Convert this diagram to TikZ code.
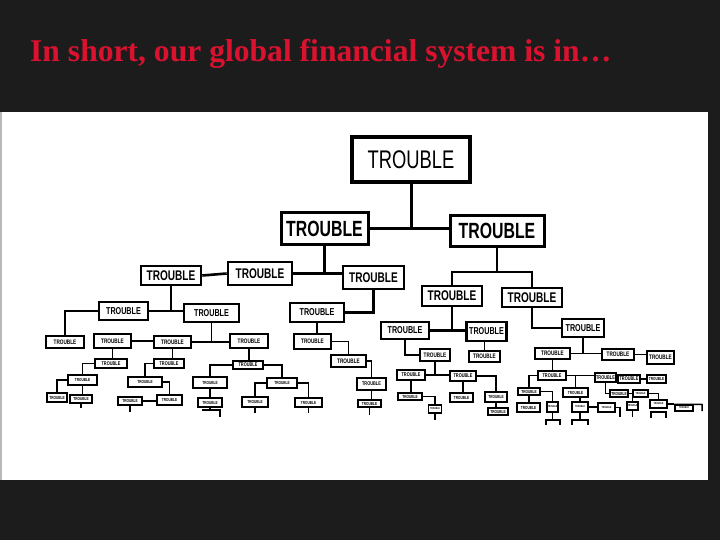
\documentclass[tikz,border=0pt]{standalone}
\usepackage{fontspec}
\setmainfont{Liberation Serif}
\setsansfont{Liberation Sans}
\usepackage{graphicx}
\usepackage{tikz}
\definecolor{slidebg}{RGB}{28,28,28}
\definecolor{titlered}{RGB}{218,18,48}
\newcommand{\tb}{\scalebox{0.72}[1]{TROUBLE}}
\newcommand{\boxfont}[1]{\fontsize{#1}{#1}\selectfont\sffamily\bfseries}

\begin{document}
\begin{tikzpicture}[x=1pt,y=-1pt]
  \tikzset{
    trbox/.style={draw=black,fill=white,inner sep=0pt},
    sz/.style 2 args={minimum width=#1pt,minimum height=#2pt},
    t0/.style={trbox,line width=3.4pt,font=\fontsize{25.5}{25.5}\selectfont\sffamily},
    t1/.style={trbox,line width=3pt,font=\boxfont{22}},
    t2/.style={trbox,line width=2.6pt,font=\boxfont{14}},
    t3/.style={trbox,line width=2.3pt,font=\boxfont{10}},
    t4/.style={trbox,line width=2pt,font=\boxfont{6.5}},
    t5/.style={trbox,line width=1.8pt,font=\boxfont{5.4}},
    t6/.style={trbox,line width=1.6pt,font=\boxfont{4.4}},
    t7/.style={trbox,line width=1.4pt,font=\boxfont{2.8}},
    lk/.style={line width=3pt},
    lm/.style={line width=2.6pt},
    ls/.style={line width=2.1pt},
    lt/.style={line width=1.9pt},
    lx/.style={line width=1.7pt},
    lz/.style={line width=1.5pt}
  }
  \fill[slidebg] (0,0) rectangle (720,540);
  \fill[white] (0,112) rectangle (708,480);
  \draw[gray!55,line width=2pt] (1,112) -- (1,480);
  \node[anchor=base west,inner sep=0pt,text=titlered,font=\fontsize{31.6}{34}\selectfont\bfseries]
    (title) at (30,62) {In short, our global financial system is in…};

  \node[t0,sz={118}{45}] (R) at (411,159.5) {\tb};
  \node[t1,sz={87}{31}] (A) at (324.5,228.5) {\tb};
  \node[t1,sz={94}{30}] (B) at (497,231) {\tb};

  \node[t2,sz={60}{19}] (A1) at (171,275.5) {\tb};
  \node[t2,sz={64}{23}] (A2) at (260,273.5) {\tb};
  \node[t2,sz={61}{23}] (A3) at (373.5,277.5) {\tb};
  \node[t2,sz={60}{20}] (B1) at (452,296) {\tb};
  \node[t2,sz={60}{19}] (B2) at (532,297.5) {\tb};

  \node[t3,sz={49}{18}] (A1a) at (123.5,311) {\tb};
  \node[t3,sz={55}{18}] (A1b) at (211.5,313) {\tb};
  \node[t3,sz={54}{19}] (A3a) at (317,312.5) {\tb};
  \node[t3,sz={48}{17}] (C1) at (405,330.5) {\tb};
  \node[t3,sz={40}{19}] (C2) at (486.5,331.5) {\tb};
  \node[t3,sz={42}{18}] (D) at (583,328) {\tb};

  \node[t4,sz={38}{12}] (E1) at (65,342) {\tb};
  \node[t4,sz={37}{14}] (E2) at (112.5,341) {\tb};
  \node[t4,sz={37}{12}] (E3) at (172.5,342) {\tb};
  \node[t4,sz={38}{14}] (E4) at (249,341) {\tb};
  \node[t4,sz={37}{15}] (E5) at (312.5,341.5) {\tb};
  \node[t4,sz={35}{12}] (E6) at (348.5,361) {\tb};
  \node[t4,sz={30}{12}] (F1) at (435,355) {\tb};
  \node[t4,sz={31}{11}] (F2) at (484.5,356.5) {\tb};
  \node[t4,sz={35}{11}] (G1) at (552.5,353.5) {\tb};
  \node[t4,sz={32}{11}] (G2) at (618,354.5) {\tb};
  \node[t4,sz={27}{13}] (G3) at (660.5,357.5) {\tb};

  \node[t5,sz={32}{9}] (H1) at (111,363.5) {\tb};
  \node[t5,sz={30}{9}] (H2) at (169,363.5) {\tb};
  \node[t5,sz={30}{8}] (H3) at (248,365) {\tb};
  \node[t5,sz={29}{12}] (H4) at (371.5,384) {\tb};
  \node[t5,sz={28}{10}] (H5) at (411,375) {\tb};
  \node[t5,sz={26}{10}] (H6) at (463,376) {\tb};
  \node[t5,sz={28}{9}] (J1) at (552,375.5) {\tb};
  \node[t5,sz={21}{9}] (K1) at (605.5,377.5) {\tb};
  \node[t5,sz={22}{8}] (K2) at (629,379) {\tb};
  \node[t6,sz={19}{8}] (K3) at (656.5,379) {\tb};

  \node[t6,sz={29}{10}] (P1) at (82.5,380) {\tb};
  \node[t6,sz={20}{9}] (P2) at (57,397.5) {\tb};
  \node[t6,sz={22}{8}] (P3) at (81,399) {\tb};
  \node[t6,sz={34}{10}] (P4) at (145,382) {\tb};
  \node[t6,sz={25}{10}] (P5) at (169.5,400) {\tb};
  \node[t6,sz={24}{8}] (P6) at (130,401) {\tb};
  \node[t6,sz={34}{11}] (P7) at (210,382.5) {\tb};
  \node[t6,sz={30}{10}] (P8) at (282,383) {\tb};
  \node[t6,sz={24}{9}] (P9) at (210,402.5) {\tb};
  \node[t6,sz={26}{10}] (P10) at (255,402) {\tb};
  \node[t6,sz={27}{9}] (P11) at (308.5,402.5) {\tb};
  \node[t6,sz={23}{7}] (P12) at (369.5,403.5) {\tb};
  \node[t6,sz={24}{7}] (Q1) at (410,396.5) {\tb};
  \node[t7,sz={13}{8}] (Q2) at (435,409) {\tb};
  \node[t6,sz={23}{9}] (Q3) at (461.5,397.5) {\tb};
  \node[t6,sz={22}{10}] (Q4) at (496,397) {\tb};
  \node[t6,sz={20}{7}] (Q5) at (498,411.5) {\tb};
  \node[t6,sz={22}{7}] (J2) at (529,391.5) {\tb};
  \node[t6,sz={25}{9}] (J3) at (575.5,392.5) {\tb};
  \node[t6,sz={18}{7}] (K4) at (619,393.5) {\tb};
  \node[t7,sz={15}{7}] (K5) at (640.5,393.5) {\tb};
  \node[t7,sz={17}{8}] (K6) at (658.5,404) {\tb};
  \node[t6,sz={23}{9}] (J4) at (528.5,407.5) {\tb};
  \node[t7,sz={11}{10}] (J5) at (552.5,407) {\tb};
  \node[t7,sz={16}{10}] (J6) at (580,407) {\tb};
  \node[t7,sz={17}{9}] (J7) at (606.5,407.5) {\tb};
  \node[t7,sz={11}{8}] (K7) at (632.5,406) {\tb};
  \node[t7,sz={18}{6}] (K8) at (684,408) {\tb};

  \coordinate (bbar) at (497,272);
  \coordinate (p3t) at (81,408);
  \coordinate (p6t) at (130,412);
  \coordinate (p9b) at (210,410);
  \coordinate (p9l) at (202,410);
  \coordinate (p9r) at (220,410);
  \coordinate (p9t) at (220,417);
  \coordinate (p10t) at (255,413);
  \coordinate (p11t) at (308.5,413);
  \coordinate (p12t) at (369.5,415);
  \coordinate (q2t) at (435,420);
  \coordinate (j5b) at (552.5,420);
  \coordinate (j5l) at (546,420);
  \coordinate (j5r) at (560,420);
  \coordinate (j5lt) at (546,425);
  \coordinate (j5rt) at (560,425);
  \coordinate (j6b) at (580,420);
  \coordinate (j6l) at (572,420);
  \coordinate (j6r) at (588,420);
  \coordinate (j6lt) at (572,425);
  \coordinate (j6rt) at (588,425);
  \coordinate (j7c) at (620,407.5);
  \coordinate (j7t) at (620,417);
  \coordinate (k7t) at (632.5,417);
  \coordinate (k6l) at (651,412);
  \coordinate (k6r) at (666,412);
  \coordinate (k6lt) at (651,418);
  \coordinate (k6rt) at (666,418);
  \coordinate (k8r) at (702,404.5);
  \coordinate (k8rt) at (702,411);

  \draw[lk] (A.east) -- (A.east -| B.west);
  \draw[lk] (R.south) -- (R.south |- A.east);
  \draw[lm] (B.south) -- (bbar);
  \draw[lm] (B1.north) |- (bbar) -| (B2.north);
  \draw[lm] (A1.east) -- (A2.west);
  \draw[lm] (A2.east) -- (A2.east -| A3.west);
  \draw[lm] (A.south) -- (A.south |- A2.east);

  \draw[ls] (A1a.east) -- (A1a.east -| A1b.west);
  \draw[ls] (A1.south) -- (A1.south |- A1a.east);
  \draw[ls] (A3.south) |- (A3a.east);
  \draw[ls] (C1.east) -- (C1.east -| C2.west);
  \draw[ls] (B1.south) -- (B1.south |- C1.east);
  \draw[ls] (B2.south) |- (D.west);

  \draw[lt] (A1a.west) -| (E1.north);
  \draw[lt] (E2.east) -- (E2.east -| E3.west);
  \draw[lt] (E3.east) -- (E3.east -| E4.west);
  \draw[lt] (A1b.south) -- (A1b.south |- E3.east);
  \draw[lt] (A3a.south) -- (A3a.south |- E5.north);
  \draw[lt] (E5.east) -| (E6.north);
  \draw[lt] (C1.south) |- (F1.west);
  \draw[lt] (F2.north) -- (F2.north |- C2.south);
  \draw[lt] (G1.east) -- (G1.east -| G2.west);
  \draw[lt] (D.south) -- (D.south |- G1.east);
  \draw[lt] (G2.east) -- (G2.east -| G3.west);

  \draw[lx] (E2.south) -- (E2.south |- H1.north);
  \draw[lx] (E3.south) -- (E3.south |- H2.north);
  \draw[lx] (E4.south) -- (E4.south |- H3.north);
  \draw[lx] (E6.east) -| (H4.north);
  \draw[lx] (H5.east) -- (H5.east -| H6.west);
  \draw[lx] (F1.south) -- (F1.south |- H5.east);
  \draw[lx] (G1.south) -- (G1.south |- J1.north);
  \draw[lx] (J1.east) -- (J1.east -| K1.west);
  \draw[lx] (K1.east) -- (K1.east -| K2.west);
  \draw[lx] (K2.east) -- (K2.east -| K3.west);

  \draw[lz] (H1.west) -| (P1.north);
  \draw[lz] (P1.west) -| (P2.north);
  \draw[lz] (P1.south) -- (P1.south |- P3.north);
  \draw[lz] (H2.west) -| (P4.north);
  \draw[lz] (P4.east) -| (P5.north);
  \draw[lz] (P6.east) -- (P6.east -| P5.west);
  \draw[lz] (H3.west) -| (P7.north);
  \draw[lz] (H3.east) -| (P8.north);
  \draw[lz] (P7.south) -- (P7.south |- P9.north);
  \draw[lz] (P8.west) -| (P10.north);
  \draw[lz] (P8.east) -| (P11.north);
  \draw[lz] (H4.south) -- (H4.south |- P12.north);
  \draw[lz] (H5.south) -- (H5.south |- Q1.north);
  \draw[lz] (Q1.east) -| (Q2.north);
  \draw[lz] (H6.south) -- (H6.south |- Q3.north);
  \draw[lz] (H6.east) -| (Q4.north);
  \draw[lz] (Q4.south) -- (Q4.south |- Q5.north);
  \draw[lz] (J1.west) -| (J2.north);
  \draw[lz] (J3.north) -- (J3.north |- J1.east);
  \draw[lz] (K1.south) |- (K4.west);
  \draw[lz] (K4.east) -- (K4.east -| K5.west);
  \draw[lz] (K5.east) -| (K6.north);
  \draw[lz] (K7.north) -- (K7.north |- K4.east);
  \draw[lz] (J2.south) -- (J2.south |- J4.north);
  \draw[lz] (J2.east) -| (J5.north);
  \draw[lz] (J6.north) -- (J6.north |- J3.south);
  \draw[lz] (J6.east) -- (J6.east -| J7.west);
  \draw[lz] (K6.east) -- (K6.east -| K8.west);

  \draw[lz] (P3.south) -- (p3t);
  \draw[lz] (P6.south) -- (p6t);
  \draw[lz] (P9.south) -- (p9b);
  \draw[lz] (p9l) -- (p9r) -- (p9t);
  \draw[lz] (P10.south) -- (p10t);
  \draw[lz] (P11.south) -- (p11t);
  \draw[lz] (P12.south) -- (p12t);
  \draw[lz] (Q2.south) -- (q2t);
  \draw[lz] (J5.south) -- (j5b);
  \draw[lz] (j5lt) -- (j5l) -- (j5r) -- (j5rt);
  \draw[lz] (J6.south) -- (j6b);
  \draw[lz] (j6lt) -- (j6l) -- (j6r) -- (j6rt);
  \draw[lz] (J7.east) -- (j7c) -- (j7t);
  \draw[lz] (K7.south) -- (k7t);
  \draw[lz] (k6lt) -- (k6l) -- (k6r) -- (k6rt);
  \draw[lz] (K8.north west) -- (k8r) -- (k8rt);
\end{tikzpicture}
\end{document}
